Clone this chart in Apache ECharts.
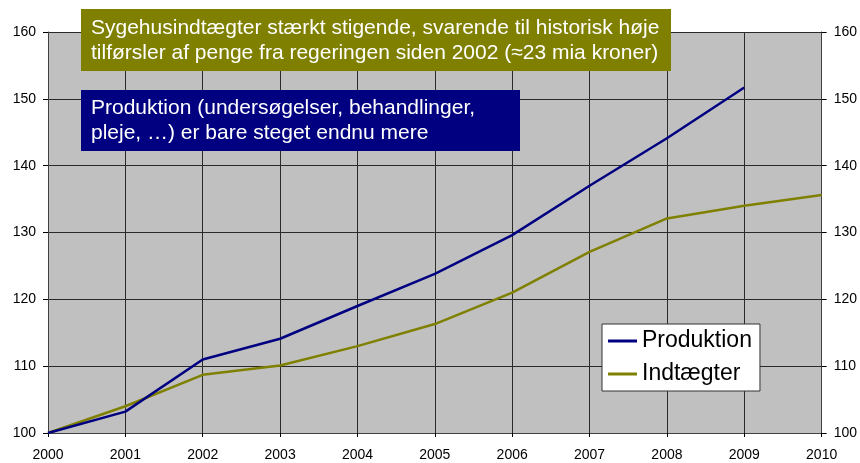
<!DOCTYPE html>
<html>
<head>
<meta charset="utf-8">
<script src="https://cdn.jsdelivr.net/npm/echarts@6/dist/echarts.min.js"></script>
<style>
  html, body { margin: 0; padding: 0; background: #fff; }
  #chart { width: 860px; height: 463px; }
</style>
</head>
<body>
<div id="chart"></div>
<script>
var years = ['2000', '2001', '2002', '2003', '2004', '2005', '2006', '2007', '2008', '2009', '2010'];
var produktion = [100, 103.2, 111.0, 114.1, 119.0, 123.8, 129.6, 137.0, 144.1, 151.7, null];
var indtaegter = [100, 104.0, 108.7, 110.1, 113.0, 116.3, 121.0, 127.1, 132.1, 134.0, 135.6];
var noteTop = 'Sygehusindtægter stærkt stigende, svarende til historisk høje\ntilførsler af penge fra regeringen siden 2002 (≈23 mia kroner)';
var noteMid = 'Produktion (undersøgelser, behandlinger,\npleje, …) er bare steget endnu mere';

var font = '"Liberation Sans", Arial, sans-serif';
var chart = echarts.init(document.getElementById('chart'));

var yAxisCommon = {
    type: 'value',
    min: 100,
    max: 160,
    interval: 10,
    axisLine: { show: true, lineStyle: { color: '#404040', width: 1 } },
    axisTick: { show: true, length: 5, lineStyle: { color: '#000' } },
    axisLabel: { color: '#000', fontSize: 14, fontFamily: font, margin: 12 },
    splitLine: { show: false }
};

chart.setOption({
    animation: false,
    textStyle: { fontFamily: font },
    grid: {
        left: 48, right: 35, top: 32, bottom: 30,
        show: true,
        backgroundColor: '#c0c0c0',
        borderWidth: 0
    },
    xAxis: {
        type: 'category',
        data: years,
        boundaryGap: false,
        axisLine: { show: true, lineStyle: { color: '#404040', width: 1 } },
        axisTick: { show: true, length: 4, lineStyle: { color: '#000' } },
        axisLabel: { color: '#000', fontSize: 14, fontFamily: font, margin: 15 },
        splitLine: { show: true, lineStyle: { color: '#2a2a2a', width: 1 } }
    },
    yAxis: [
        Object.assign({}, yAxisCommon, {
            position: 'left',
            splitLine: { show: true, lineStyle: { color: '#2a2a2a', width: 1 } }
        }),
        Object.assign({}, yAxisCommon, { position: 'right' })
    ],
    legend: {
        orient: 'vertical',
        left: 602,
        top: 324,
        backgroundColor: '#fff',
        borderColor: '#333',
        borderWidth: 1,
        borderRadius: 0,
        padding: [4, 8, 4, 6],
        itemGap: 7,
        itemWidth: 29,
        itemHeight: 3,
        icon: 'rect',
        textStyle: { fontSize: 23, color: '#000', fontFamily: font, lineHeight: 26 },
        data: ['Produktion', 'Indtægter']
    },
    series: [
        {
            name: 'Produktion',
            type: 'line',
            data: produktion,
            showSymbol: false,
            lineStyle: { color: '#000080', width: 2.5 },
            itemStyle: { color: '#000080' },
            z: 4
        },
        {
            name: 'Indtægter',
            type: 'line',
            data: indtaegter,
            showSymbol: false,
            lineStyle: { color: '#808000', width: 2.5 },
            itemStyle: { color: '#808000' },
            z: 3
        }
    ],
    graphic: [
        {
            type: 'rect', left: 81, top: 9, z: 100,
            shape: { width: 590, height: 62 }, style: { fill: '#808000' }
        },
        {
            type: 'text', left: 91, top: 16, z: 101,
            style: { text: noteTop, fill: '#fff', fontSize: 21, lineHeight: 25, fontFamily: font }
        },
        {
            type: 'rect', left: 81, top: 90, z: 100,
            shape: { width: 439, height: 61 }, style: { fill: '#000080' }
        },
        {
            type: 'text', left: 91, top: 96, z: 101,
            style: { text: noteMid, fill: '#fff', fontSize: 21, lineHeight: 25, fontFamily: font }
        }
    ]
});
</script>
</body>
</html>
